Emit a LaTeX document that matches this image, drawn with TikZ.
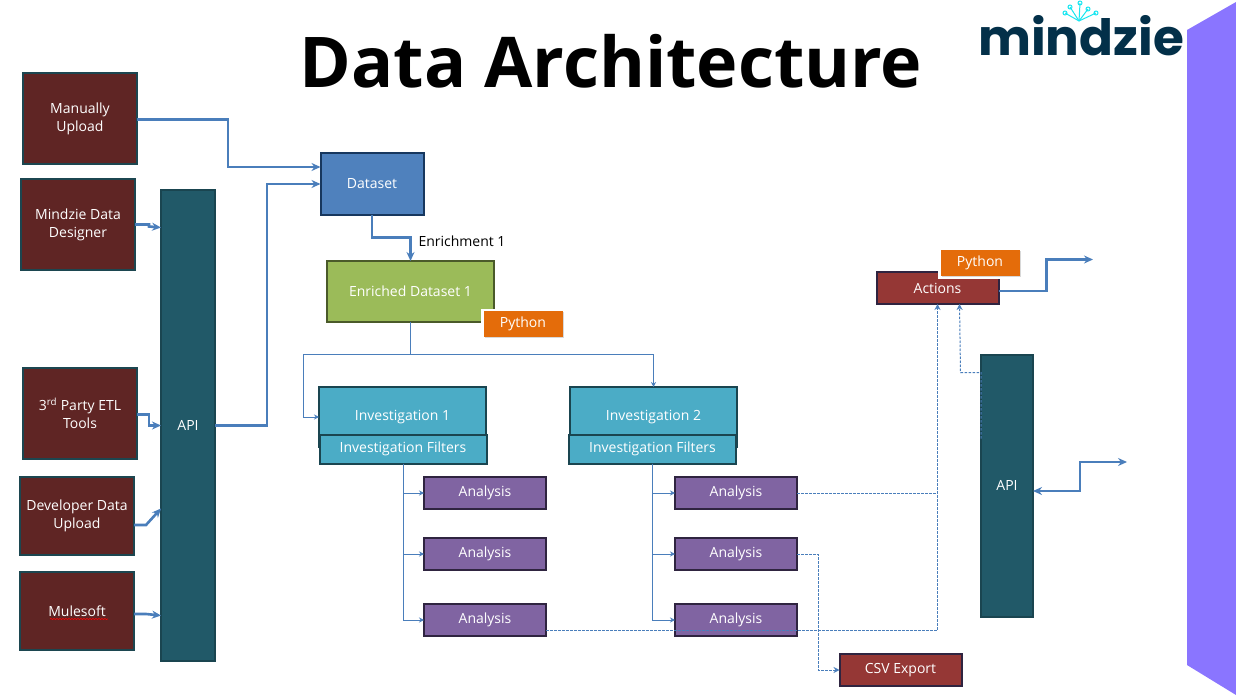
\documentclass[tikz,border=0pt]{standalone}
\usepackage{fontspec}
\setmainfont{Open Sans}
\newfontfamily\logofont{Poppins}
\usetikzlibrary{arrows.meta,shadows,decorations.pathmorphing}
\definecolor{srcfill}{HTML}{5F2524}
\definecolor{srcline}{HTML}{1C4650}
\definecolor{apifill}{HTML}{215968}
\definecolor{apiline}{HTML}{1A4550}
\definecolor{dsfill}{HTML}{4F81BD}
\definecolor{dsline}{HTML}{17375E}
\definecolor{enfill}{HTML}{9BBB59}
\definecolor{enline}{HTML}{4A5A2A}
\definecolor{pyfill}{HTML}{E46C0A}
\definecolor{invfill}{HTML}{4BACC6}
\definecolor{anfill}{HTML}{8064A2}
\definecolor{anline}{HTML}{2F2440}
\definecolor{actfill}{HTML}{953735}
\definecolor{flow}{HTML}{4A7EBB}
\definecolor{band}{HTML}{8A75FF}
\definecolor{logoink}{HTML}{033049}
\definecolor{logotip}{HTML}{19E6F0}
\tikzset{
  block/.style 2 args = {draw, line width=2pt, text=white, font=\fontsize{14}{18}\selectfont,
                align=center, inner sep=0pt, outer sep=0pt,
                minimum width=#1, minimum height=#2},
  source/.style = {block={114pt}{91pt}, fill=srcfill, draw=srcline},
  sourcelow/.style = {block={114pt}{78pt}, fill=srcfill, draw=srcline},
  api/.style 2 args = {block={#1}{#2}, fill=apifill, draw=apiline},
  invest/.style = {block={167pt}{#1}, fill=invfill, draw=apiline},
  analysis/.style = {block={122pt}{32pt}, fill=anfill, draw=anline},
  action/.style = {block={122pt}{32pt}, fill=actfill, draw=anline},
  python/.style = {block={79pt}{26pt}, fill=pyfill, draw=none, preaction={draw=white, line width=5pt},
                drop shadow={shadow xshift=1pt, shadow yshift=-1pt, opacity=0.3}},
  bigflow/.style = {draw=flow, line width=2.6pt, -{Stealth[length=9pt,width=8pt]}},
  thinflow/.style = {draw=flow, line width=1pt, -{Stealth[length=5pt,width=5pt]}},
  dotflow/.style = {draw=flow, line width=1pt, dash pattern=on 2.5pt off 1.5pt, -{Stealth[length=6pt,width=6pt]}},
}
\begin{document}
\begin{tikzpicture}[x=1pt,y=-1pt]
	\useasboundingbox (0,0) rectangle (1236,695);

	% Side band
	\fill[band] (1187,30) -- (1236,2) -- (1236,695) -- (1187,665) -- cycle;

	% Title and logo
	\node[font=\fontsize{70}{80}\selectfont\bfseries, inner sep=0pt] (title) at (611,61) {Data Architecture};
	\node[font=\logofont\fontsize{50}{50}\selectfont\bfseries, text=logoink, inner sep=0pt] (logo) at (1081,36) {mindzie};
	\foreach \tx/\ty in {1080/3, 1065/13, 1070/7, 1088/9, 1096/13}
		\draw[logotip, line width=1pt] (\tx,\ty) circle (2pt) -- (1079,21);

	% Sources
	\node[source] (manual) at (80,118.5) {Manually\\Upload};
	\node[source] (designer) at (78,224.5) {Mindzie Data\\Designer};
	\node[source] (etl) at (80,413.5) {3\textsuperscript{rd} Party ETL\\Tools};
	\node[sourcelow] (developer) at (77,516) {Developer Data\\Upload};
	\node[sourcelow] (mulesoft) at (77,611) {Mulesoft};
	\draw[red, line width=0.6pt, decorate, decoration={snake, amplitude=0.6pt, segment length=3pt}] (50,619) -- (108,619);

	% API blocks
	\node[api={54pt}{471pt}] (apileft) at (188,425.5) {API};
	\node[api={52pt}{262pt}] (apiright) at (1007,485.5) {API};

	% Dataset
	\node[block={103pt}{62pt}, fill=dsfill, draw=dsline] (dataset) at (372,184) {Dataset};
	\node[block={167pt}{61pt}, fill=enfill, draw=enline] (enriched) at (410.5,291.5) {Enriched Dataset 1};
	\node[python] (pyone) at (523,324) {Python};
	\node[inner sep=0pt, font=\fontsize{14}{18}\selectfont] (enrichlabel) at (462,241) {Enrichment 1};

	% Investigations
	\node[invest=60pt] (invone) at (402.5,417) {\raisebox{-3pt}{Investigation 1}};
	\node[invest=60pt] (invtwo) at (653.5,417) {\raisebox{-3pt}{Investigation 2}};
	\node[invest=29pt] (filtone) at (403,449) {Investigation Filters};
	\node[invest=29pt] (filttwo) at (652.5,449) {Investigation Filters};

	% Analysis
	\foreach \nm/\ax in {one/485, two/736}{
		\node[analysis] (an\nm a) at (\ax,493) {Analysis};
		\node[analysis] (an\nm b) at (\ax,554) {Analysis};
		\node[analysis] (an\nm c) at (\ax,620) {Analysis};
	}

	% Actions and export
	\node[action] (actions) at (937.5,288) {Actions};
	\node[python] (pytwo) at (980,263) {Python};
	\node[action] (csv) at (900.5,670) {CSV Export};

	% Free ends
	\coordinate (actout) at (1093,259.5);
	\coordinate (apiout) at (1127,462);

	% Thick connectors
	\draw[bigflow] ([yshift=-1pt]manual.east) -- ++(91,0) |- ([yshift=17pt]dataset.west);
	\draw[bigflow] (apileft.east) -- ++(52,0) |- (dataset.west);
	\draw[bigflow] (designer.east) -- ++(14,0) -- ++(0,2) -- ([yshift=198pt]apileft.west);
	\draw[bigflow] ([yshift=-1pt]etl.east) -- ++(12,0) |- (apileft.west);
	\draw[bigflow] ([yshift=-9pt]developer.east) -- ++(12,0) -- ([yshift=-83pt]apileft.west);
	\draw[bigflow] ([yshift=-3pt]mulesoft.east) -- ++(12,0) -- ([yshift=-190pt]apileft.west);
	\draw[bigflow] (dataset.south) -- ++(0,22.5) -| (enriched.north);
	\draw[bigflow] ([yshift=-3pt]actions.east) -- ++(48,0) |- (actout);
	\draw[bigflow, {Stealth[length=9pt,width=8pt]}-{Stealth[length=9pt,width=8pt]}] ([yshift=-5.5pt]apiright.east) -- ++(47,0) |- (apiout);

	% Thin connectors
	\draw[thinflow] (enriched.south) -- ++(0,32) -| (invtwo.north);
	\draw[thinflow] (enriched.south) -- ++(0,32) -- ++(-107.5,0) |- (invone.west);
	\foreach \st/\nm in {filtone/one, filttwo/two}
		\foreach \lt in {a,b,c}
			\draw[thinflow] (\st.south) |- (an\nm\lt.west);

	% Dotted connectors
	\draw[dotflow] ([yshift=-10pt]anonec.east) -| (actions.south);
	\draw[dotflow, -] (antwoa.east) -- (antwoa.east -| actions.south);
	\draw[dotflow] (antwob.east) -- ++(21,0) |- (csv.west);
	\draw[dotflow] ([yshift=47pt]apiright.west) -- ++(0,-66) -- ++(-20.5,0) -- ([xshift=22pt]actions.south);
\end{tikzpicture}
\end{document}
